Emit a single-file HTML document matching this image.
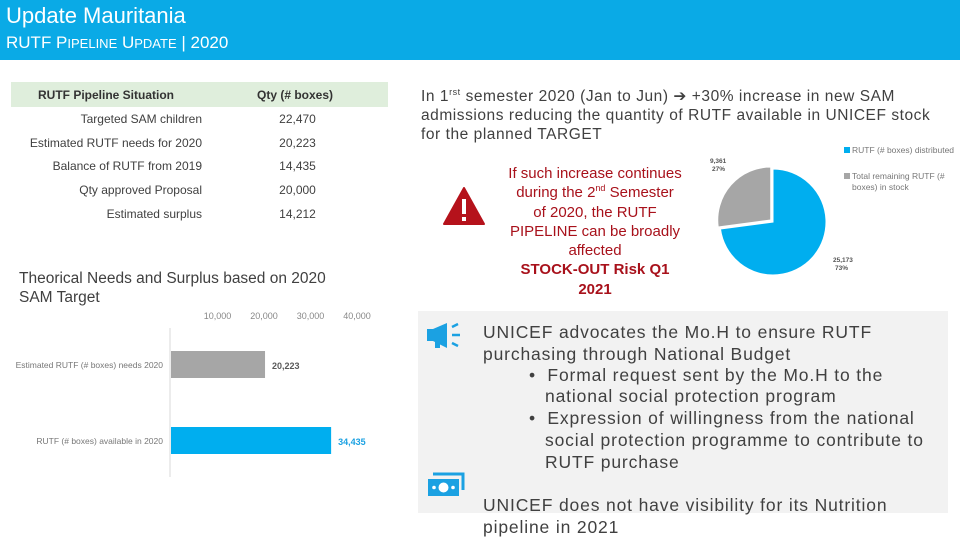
<!DOCTYPE html>
<html><head><meta charset="utf-8">
<style>
*{margin:0;padding:0;box-sizing:border-box}
body{width:960px;height:540px;position:relative;background:#fff;font-family:"Liberation Sans",sans-serif;overflow:hidden;color:#404040}
.a{position:absolute;white-space:nowrap}
.hdr{position:absolute;left:0;top:0;width:960px;height:60px;background:#0aaae6}
.row{position:absolute;font-size:12px;color:#404040}
.lab{width:202px;text-align:right;left:0}
.qty{left:250px;width:95px;text-align:center}
.red{color:#a8111b;font-size:15px;text-align:center;line-height:19.3px}
sup{line-height:0;font-size:9px}
.box{position:absolute;left:418px;top:311px;width:530px;height:202px;background:#f2f2f2}
.bt{position:absolute;font-size:17.5px;color:#404040;line-height:21.5px;letter-spacing:0.85px}
</style></head><body>
<div class="hdr">
 <div class="a" style="left:6px;top:3px;font-size:22px;color:#fff">Update Mauritania</div>
 <div class="a" style="left:6px;top:33px;font-size:17px;color:#fff">RUTF P<span style="font-size:13px">IPELINE</span> U<span style="font-size:13px">PDATE</span> | 2020</div>
</div>

<div>
 <div style="position:absolute;left:11px;top:82px;width:377px;height:25px;background:#dfeedc"></div>
 <div class="a" style="left:38px;top:88px;font-size:12px;font-weight:bold;color:#333">RUTF Pipeline Situation</div>
 <div class="a" style="left:257px;top:88px;font-size:12px;font-weight:bold;color:#333">Qty (# boxes)</div>
 <div class="row lab" style="top:112px">Targeted SAM children</div><div class="row qty" style="top:112px">22,470</div>
 <div class="row lab" style="top:136px">Estimated RUTF needs for 2020</div><div class="row qty" style="top:136px">20,223</div>
 <div class="row lab" style="top:159px">Balance of RUTF from 2019</div><div class="row qty" style="top:159px">14,435</div>
 <div class="row lab" style="top:183px">Qty approved Proposal</div><div class="row qty" style="top:183px">20,000</div>
 <div class="row lab" style="top:207px">Estimated surplus</div><div class="row qty" style="top:207px">14,212</div>
</div>

<div class="a" style="left:19px;top:269px;font-size:15.5px;line-height:19px;color:#404040">Theorical Needs and Surplus based on 2020<br>SAM Target</div>

<svg id="bar" style="position:absolute;left:0;top:300px" width="400" height="190"></svg>

<div class="a" style="left:421px;top:87px;font-size:15.5px;line-height:19px;color:#404040;letter-spacing:0.55px">In 1<sup>rst</sup> semester 2020 (Jan to Jun) ➔ +30% increase in new SAM<br>admissions reducing the quantity of RUTF available in UNICEF stock<br>for the planned TARGET</div>

<svg style="position:absolute;left:442px;top:186px" width="44" height="40"><path d="M22 2 L42 38 L2 38 Z" fill="#b5121b" stroke="#b5121b" stroke-width="2" stroke-linejoin="round"/><rect x="20" y="13" width="4" height="15" fill="#fff"/><rect x="20" y="31" width="4" height="4" fill="#fff"/></svg>

<div class="a red" style="left:490px;top:164px;width:210px">If such increase continues<br>during the 2<sup>nd</sup> Semester<br>of 2020, the RUTF<br>PIPELINE can be broadly<br>affected<br><b>STOCK-OUT Risk Q1<br>2021</b></div>

<svg id="pie" style="position:absolute;left:700px;top:140px" width="260" height="140"></svg>

<div class="box"></div>
<svg style="position:absolute;left:427px;top:322px" width="38" height="28"><rect x="0" y="7" width="6" height="12" fill="#1ba1e2"/><path d="M6 7 L20 1 L20 26 L6 19 Z" fill="#1ba1e2"/><rect x="8" y="18" width="5" height="8" fill="#1ba1e2"/><path d="M25 5 l6 -3 M25 13 h8 M25 21 l6 3" stroke="#1ba1e2" stroke-width="2.5"/></svg>
<svg style="position:absolute;left:427px;top:472px" width="38" height="26"><path d="M6 2 H36 V18" stroke="#1ba1e2" stroke-width="3" fill="none"/><rect x="1" y="7" width="31" height="17" fill="#1ba1e2"/><circle cx="16.5" cy="15.5" r="5" fill="#fff"/><circle cx="7" cy="15.5" r="1.8" fill="#fff"/><circle cx="26" cy="15.5" r="1.8" fill="#fff"/></svg>
<div class="bt" style="left:483px;top:322px">UNICEF advocates the Mo.H to ensure RUTF<br>purchasing through National Budget</div>
<div class="bt" style="left:529px;top:365px">•&nbsp; Formal request sent by the Mo.H to the</div>
<div class="bt" style="left:545px;top:386px">national social protection program</div>
<div class="bt" style="left:529px;top:408px">•&nbsp; Expression of willingness from the national</div>
<div class="bt" style="left:545px;top:430px">social protection programme to contribute to<br>RUTF purchase</div>
<div class="bt" style="left:483px;top:495px">UNICEF does not have visibility for its Nutrition<br>pipeline in 2021</div>

<script>
const barCats=["Estimated RUTF (# boxes) needs 2020","RUTF (# boxes) available in 2020"];
const barVals=[20223,34435];
const barLabels=["20,223","34,435"];
const tickVals=[10000,20000,30000,40000];
const tickLabels=["10,000","20,000","30,000","40,000"];
const pieLabels=["RUTF (# boxes) distributed","Total remaining RUTF (# boxes) in stock"];
const pieVals=[25173,9361];
const pieValueLabels=["25,173","9,361"];
const piePctLabels=["73%","27%"];

const NS="http://www.w3.org/2000/svg";
function mk(p,t,a){const e=document.createElementNS(NS,t);for(const k in a)e.setAttribute(k,a[k]);p.appendChild(e);return e;}
const bar=document.getElementById('bar');
const x0=171, pxPer=46.5/10000;
const xs=v=>x0+v*pxPer;
tickVals.forEach((v,i)=>{const t=mk(bar,'text',{x:xs(v),y:19,'font-size':9,fill:'#888','text-anchor':'middle'});t.textContent=tickLabels[i];

});
const ax=mk(bar,'line',{x1:170,x2:170,y1:28,y2:177,stroke:'#d9d9d9','stroke-width':1});


const cols=['#a6a6a6','#00aeef'],lcols=['#595959','#1ba1e2'],ys=[51,127];
barVals.forEach((v,i)=>{
 const r=mk(bar,'rect',{x:x0,y:ys[i],width:xs(v)-x0,height:27,fill:cols[i]});
 
 
 const c=mk(bar,'text',{x:163,y:ys[i]+17,'font-size':8.5,fill:'#777','text-anchor':'end'});c.textContent=barCats[i];
 
 
 const l=mk(bar,'text',{x:xs(v)+7,y:ys[i]+18,'font-size':9,'font-weight':'bold',fill:lcols[i]});l.textContent=barLabels[i];
 
 
});
const pie=document.getElementById('pie');
const cx=73,cy=82,R=53,tot=pieVals.reduce((a,b)=>a+b,0);
let ang=0;
const pc=['#00aeef','#a6a6a6'];
pieVals.forEach((v,i)=>{
 const a0=ang,a1=ang+v/tot*2*Math.PI;ang=a1;
 const mid=(a0+a1)/2,off=i==1?3:0;
 const ox=cx+off*Math.sin(mid),oy=cy-off*Math.cos(mid);
 const p=[ox,oy,ox+R*Math.sin(a0),oy-R*Math.cos(a0),ox+R*Math.sin(a1),oy-R*Math.cos(a1)];
 const s=mk(pie,'path',{d:`M${p[0]},${p[1]} L${p[2]},${p[3]} A${R},${R} 0 ${a1-a0>Math.PI?1:0} 1 ${p[4]},${p[5]} Z`,fill:pc[i],stroke:'#fff','stroke-width':1});
 
 
 const t=mk(pie,'text',{x:i==0?133:10,y:i==0?122:23,'font-size':6.5,fill:'#555','font-weight':'bold'});
 
 
 const t1=mk(t,'tspan',{x:i==0?133:10,dy:0});t1.textContent=pieValueLabels[i];
 const t2=mk(t,'tspan',{x:i==0?135:12,dy:8});t2.textContent=piePctLabels[i];
 const lr=mk(pie,'rect',{x:144,y:i==0?7:33,width:6,height:6,fill:pc[i]});
 
 
 const lt=mk(pie,'text',{x:152,y:i==0?13:39,'font-size':8.5,fill:'#777'});
 
 
 if(i==0){lt.textContent=pieLabels[0];}
 else{const a=mk(lt,'tspan',{x:152,dy:0});a.textContent='Total remaining RUTF (#';const b=mk(lt,'tspan',{x:152,dy:11});b.textContent='boxes) in stock';}
});
</script>
</body></html>
